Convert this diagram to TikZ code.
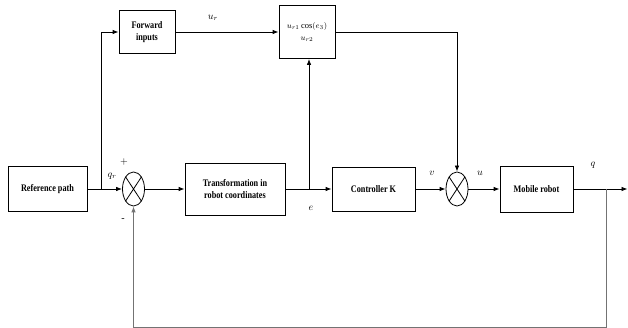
\documentclass[tikz,border=0pt]{standalone}
\usepackage{fontspec}
\setmainfont{Liberation Serif}
\newfontfamily\condfont[FakeStretch=0.82]{Liberation Serif}
\usetikzlibrary{arrows.meta,shapes.geometric}
\begin{document}
\begin{tikzpicture}[x=1pt,y=-1pt,line width=0.8pt,
        >={Latex[length=6pt,width=4.5pt]},
        block/.style={draw,align=center,inner sep=0pt,
            font=\condfont\bfseries\fontsize{10}{12}\selectfont},
        sum/.style={draw,ellipse,minimum width=22pt,minimum height=34pt,
            inner sep=0pt},
        lbl/.style={font=\fontsize{10}{11}\selectfont}]
\useasboundingbox (0,0) rectangle (628,328);

% blocks
\node[block,minimum width=79pt,minimum height=45pt] (ref) at (47.5,189) {Reference path};
\node[sum] (s1) at (133.5,189) {};
\node[block,minimum width=100pt,minimum height=52pt] (trans) at (235,189) {Transformation in\\robot coordinates};
\node[block,minimum width=83pt,minimum height=44pt] (ctrl) at (373.5,189) {Controller K};
\node[sum] (s2) at (457,189) {};
\node[block,minimum width=73pt,minimum height=46pt] (robot) at (536.5,189) {Mobile robot};
\node[block,minimum width=56pt,minimum height=43pt] (fwd) at (147,32) {Forward\\inputs};
\node[block,minimum width=56pt,minimum height=53pt,font=\fontsize{8.5}{12}\selectfont] (ucos) at (307,32) {$u_{r1}\cos(e_3)$\\$u_{r2}$};

% crosses in the summing points
\draw (s1.north west) -- (s1.south east) (s1.north east) -- (s1.south west);
\draw (s2.north west) -- (s2.south east) (s2.north east) -- (s2.south west);

\coordinate (jq) at (101,189);
\coordinate (je) at (309,189);
\coordinate (jy) at (606,189);
\coordinate (out) at (627.5,189);
\coordinate (fb) at (606,327);

% connectors
\draw[->] (ref.east) -- (s1.west);
\draw[->] (jq) |- (fwd.west);
\draw[->] (s1.east) -- (trans.west);
\draw[->] (trans.east) -- (ctrl.west);
\draw[->] (je) -- (je |- ucos.south);
\draw[->] (fwd.east) -- (ucos.west);
\draw[->] (ucos.east) -| (s2.north);
\draw[->] (ctrl.east) -- (s2.west);
\draw[->] (s2.east) -- (robot.west);
\draw[->] (robot.east) -- (out);
\draw[->,black!55] (jy) -- (fb) -| (s1.south);

% labels
\node[lbl] (lqr) at (112,176) {$q_r$};
\node[lbl] (lplus) at (124,162) {$+$};
\node[lbl] (lminus) at (123,220) {-};
\node[lbl] (lur) at (213,18) {$u_r$};
\node[lbl] (le) at (311,208) {$e$};
\node[lbl] (lv) at (432,173) {$v$};
\node[lbl] (lu) at (480,173) {$u$};
\node[lbl] (lq) at (593,165) {$q$};
\end{tikzpicture}
\end{document}
